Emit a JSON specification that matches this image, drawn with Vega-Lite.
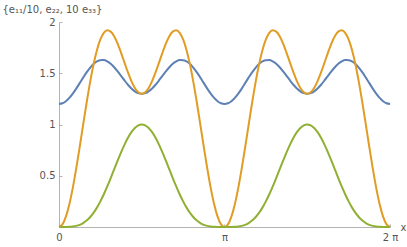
{
  "$schema": "https://vega.github.io/schema/vega-lite/v6.json",
  "width": 331,
  "height": 205,
  "autosize": {"type": "none"},
  "padding": {"left": 59, "top": 22, "right": 17, "bottom": 20},
  "config": {
    "view": {"stroke": null},
    "font": "DejaVu Sans",
    "axis": {
      "domainColor": "#b3b3b3",
      "tickColor": "#b3b3b3",
      "labelColor": "#555555",
      "titleColor": "#555555",
      "labelFont": "DejaVu Sans",
      "titleFont": "DejaVu Sans",
      "labelFontSize": 10,
      "titleFontSize": 10,
      "titleFontWeight": "normal",
      "grid": false,
      "tickSize": -3
    }
  },
  "data": {
    "values": [
      {"x": 0, "e11_10": 1.2, "e22": 0, "e33_10": 0},
      {"x": 0.06545, "e11_10": 1.2069, "e22": 0.0257, "e33_10": 0},
      {"x": 0.1309, "e11_10": 1.227, "e22": 0.1012, "e33_10": 0.0003},
      {"x": 0.19635, "e11_10": 1.2592, "e22": 0.2223, "e33_10": 0.0014},
      {"x": 0.2618, "e11_10": 1.3012, "e22": 0.3821, "e33_10": 0.0045},
      {"x": 0.32725, "e11_10": 1.3504, "e22": 0.5716, "e33_10": 0.0107},
      {"x": 0.3927, "e11_10": 1.4036, "e22": 0.7804, "e33_10": 0.0214},
      {"x": 0.45815, "e11_10": 1.4575, "e22": 0.997, "e33_10": 0.0383},
      {"x": 0.5236, "e11_10": 1.5085, "e22": 1.21, "e33_10": 0.0625},
      {"x": 0.58905, "e11_10": 1.5535, "e22": 1.4084, "e33_10": 0.0953},
      {"x": 0.6545, "e11_10": 1.5897, "e22": 1.5827, "e33_10": 0.1373},
      {"x": 0.71995, "e11_10": 1.615, "e22": 1.7251, "e33_10": 0.189},
      {"x": 0.7854, "e11_10": 1.628, "e22": 1.83, "e33_10": 0.25},
      {"x": 0.85085, "e11_10": 1.6281, "e22": 1.8947, "e33_10": 0.3195},
      {"x": 0.9163, "e11_10": 1.6156, "e22": 1.9192, "e33_10": 0.3962},
      {"x": 0.98175, "e11_10": 1.5918, "e22": 1.9059, "e33_10": 0.478},
      {"x": 1.0472, "e11_10": 1.5585, "e22": 1.86, "e33_10": 0.5625},
      {"x": 1.11265, "e11_10": 1.5184, "e22": 1.7884, "e33_10": 0.647},
      {"x": 1.1781, "e11_10": 1.4744, "e22": 1.6996, "e33_10": 0.7286},
      {"x": 1.24355, "e11_10": 1.4298, "e22": 1.603, "e33_10": 0.804},
      {"x": 1.309, "e11_10": 1.3878, "e22": 1.5079, "e33_10": 0.8705},
      {"x": 1.37445, "e11_10": 1.3516, "e22": 1.4233, "e33_10": 0.9253},
      {"x": 1.4399, "e11_10": 1.3236, "e22": 1.3569, "e33_10": 0.9662},
      {"x": 1.50535, "e11_10": 1.306, "e22": 1.3145, "e33_10": 0.9915},
      {"x": 1.5708, "e11_10": 1.3, "e22": 1.3, "e33_10": 1},
      {"x": 1.63625, "e11_10": 1.306, "e22": 1.3145, "e33_10": 0.9915},
      {"x": 1.7017, "e11_10": 1.3236, "e22": 1.3569, "e33_10": 0.9662},
      {"x": 1.76715, "e11_10": 1.3516, "e22": 1.4233, "e33_10": 0.9253},
      {"x": 1.8326, "e11_10": 1.3878, "e22": 1.5079, "e33_10": 0.8705},
      {"x": 1.89805, "e11_10": 1.4298, "e22": 1.603, "e33_10": 0.804},
      {"x": 1.9635, "e11_10": 1.4744, "e22": 1.6996, "e33_10": 0.7286},
      {"x": 2.02895, "e11_10": 1.5184, "e22": 1.7884, "e33_10": 0.647},
      {"x": 2.0944, "e11_10": 1.5585, "e22": 1.86, "e33_10": 0.5625},
      {"x": 2.15984, "e11_10": 1.5918, "e22": 1.9059, "e33_10": 0.478},
      {"x": 2.22529, "e11_10": 1.6156, "e22": 1.9192, "e33_10": 0.3962},
      {"x": 2.29074, "e11_10": 1.6281, "e22": 1.8947, "e33_10": 0.3195},
      {"x": 2.35619, "e11_10": 1.628, "e22": 1.83, "e33_10": 0.25},
      {"x": 2.42164, "e11_10": 1.615, "e22": 1.7251, "e33_10": 0.189},
      {"x": 2.48709, "e11_10": 1.5897, "e22": 1.5827, "e33_10": 0.1373},
      {"x": 2.55254, "e11_10": 1.5535, "e22": 1.4084, "e33_10": 0.0953},
      {"x": 2.61799, "e11_10": 1.5085, "e22": 1.21, "e33_10": 0.0625},
      {"x": 2.68344, "e11_10": 1.4575, "e22": 0.997, "e33_10": 0.0383},
      {"x": 2.74889, "e11_10": 1.4036, "e22": 0.7804, "e33_10": 0.0214},
      {"x": 2.81434, "e11_10": 1.3504, "e22": 0.5716, "e33_10": 0.0107},
      {"x": 2.87979, "e11_10": 1.3012, "e22": 0.3821, "e33_10": 0.0045},
      {"x": 2.94524, "e11_10": 1.2592, "e22": 0.2223, "e33_10": 0.0014},
      {"x": 3.01069, "e11_10": 1.227, "e22": 0.1012, "e33_10": 0.0003},
      {"x": 3.07614, "e11_10": 1.2069, "e22": 0.0257, "e33_10": 0},
      {"x": 3.14159, "e11_10": 1.2, "e22": 0, "e33_10": 0},
      {"x": 3.20704, "e11_10": 1.2069, "e22": 0.0257, "e33_10": 0},
      {"x": 3.27249, "e11_10": 1.227, "e22": 0.1012, "e33_10": 0.0003},
      {"x": 3.33794, "e11_10": 1.2592, "e22": 0.2223, "e33_10": 0.0014},
      {"x": 3.40339, "e11_10": 1.3012, "e22": 0.3821, "e33_10": 0.0045},
      {"x": 3.46884, "e11_10": 1.3504, "e22": 0.5716, "e33_10": 0.0107},
      {"x": 3.53429, "e11_10": 1.4036, "e22": 0.7804, "e33_10": 0.0214},
      {"x": 3.59974, "e11_10": 1.4575, "e22": 0.997, "e33_10": 0.0383},
      {"x": 3.66519, "e11_10": 1.5085, "e22": 1.21, "e33_10": 0.0625},
      {"x": 3.73064, "e11_10": 1.5535, "e22": 1.4084, "e33_10": 0.0953},
      {"x": 3.79609, "e11_10": 1.5897, "e22": 1.5827, "e33_10": 0.1373},
      {"x": 3.86154, "e11_10": 1.615, "e22": 1.7251, "e33_10": 0.189},
      {"x": 3.92699, "e11_10": 1.628, "e22": 1.83, "e33_10": 0.25},
      {"x": 3.99244, "e11_10": 1.6281, "e22": 1.8947, "e33_10": 0.3195},
      {"x": 4.05789, "e11_10": 1.6156, "e22": 1.9192, "e33_10": 0.3962},
      {"x": 4.12334, "e11_10": 1.5918, "e22": 1.9059, "e33_10": 0.478},
      {"x": 4.18879, "e11_10": 1.5585, "e22": 1.86, "e33_10": 0.5625},
      {"x": 4.25424, "e11_10": 1.5184, "e22": 1.7884, "e33_10": 0.647},
      {"x": 4.31969, "e11_10": 1.4744, "e22": 1.6996, "e33_10": 0.7286},
      {"x": 4.38514, "e11_10": 1.4298, "e22": 1.603, "e33_10": 0.804},
      {"x": 4.45059, "e11_10": 1.3878, "e22": 1.5079, "e33_10": 0.8705},
      {"x": 4.51604, "e11_10": 1.3516, "e22": 1.4233, "e33_10": 0.9253},
      {"x": 4.58149, "e11_10": 1.3236, "e22": 1.3569, "e33_10": 0.9662},
      {"x": 4.64694, "e11_10": 1.306, "e22": 1.3145, "e33_10": 0.9915},
      {"x": 4.71239, "e11_10": 1.3, "e22": 1.3, "e33_10": 1},
      {"x": 4.77784, "e11_10": 1.306, "e22": 1.3145, "e33_10": 0.9915},
      {"x": 4.84329, "e11_10": 1.3236, "e22": 1.3569, "e33_10": 0.9662},
      {"x": 4.90874, "e11_10": 1.3516, "e22": 1.4233, "e33_10": 0.9253},
      {"x": 4.97419, "e11_10": 1.3878, "e22": 1.5079, "e33_10": 0.8705},
      {"x": 5.03964, "e11_10": 1.4298, "e22": 1.603, "e33_10": 0.804},
      {"x": 5.10509, "e11_10": 1.4744, "e22": 1.6996, "e33_10": 0.7286},
      {"x": 5.17054, "e11_10": 1.5184, "e22": 1.7884, "e33_10": 0.647},
      {"x": 5.23599, "e11_10": 1.5585, "e22": 1.86, "e33_10": 0.5625},
      {"x": 5.30144, "e11_10": 1.5918, "e22": 1.9059, "e33_10": 0.478},
      {"x": 5.36689, "e11_10": 1.6156, "e22": 1.9192, "e33_10": 0.3962},
      {"x": 5.43234, "e11_10": 1.6281, "e22": 1.8947, "e33_10": 0.3195},
      {"x": 5.49779, "e11_10": 1.628, "e22": 1.83, "e33_10": 0.25},
      {"x": 5.56324, "e11_10": 1.615, "e22": 1.7251, "e33_10": 0.189},
      {"x": 5.62869, "e11_10": 1.5897, "e22": 1.5827, "e33_10": 0.1373},
      {"x": 5.69414, "e11_10": 1.5535, "e22": 1.4084, "e33_10": 0.0953},
      {"x": 5.75959, "e11_10": 1.5085, "e22": 1.21, "e33_10": 0.0625},
      {"x": 5.82504, "e11_10": 1.4575, "e22": 0.997, "e33_10": 0.0383},
      {"x": 5.89049, "e11_10": 1.4036, "e22": 0.7804, "e33_10": 0.0214},
      {"x": 5.95594, "e11_10": 1.3504, "e22": 0.5716, "e33_10": 0.0107},
      {"x": 6.02139, "e11_10": 1.3012, "e22": 0.3821, "e33_10": 0.0045},
      {"x": 6.08684, "e11_10": 1.2592, "e22": 0.2223, "e33_10": 0.0014},
      {"x": 6.15229, "e11_10": 1.227, "e22": 0.1012, "e33_10": 0.0003},
      {"x": 6.21774, "e11_10": 1.2069, "e22": 0.0257, "e33_10": 0},
      {"x": 6.28319, "e11_10": 1.2, "e22": 0, "e33_10": 0}
    ]
  },
  "transform": [
    {"fold": ["e11_10", "e22", "e33_10"], "as": ["series", "value"]}
  ],
  "mark": {"type": "line", "strokeWidth": 2, "interpolate": "monotone", "clip": false},
  "encoding": {
    "x": {
      "field": "x",
      "type": "quantitative",
      "scale": {"domain": [0, 6.28319], "nice": false, "zero": false},
      "axis": {
        "values": [0, 3.14159, 6.28319],
        "labelExpr": "datum.value < 1 ? '0' : (datum.value < 4 ? 'π' : '2 π')",
        "labelPadding": 8,
        "labelFlush": false,
        "title": "x",
        "titleAngle": 0,
        "titleAlign": "left",
        "titleBaseline": "middle",
        "titleX": 341,
        "titleY": 0,
        "titlePadding": 0
      }
    },
    "y": {
      "field": "value",
      "type": "quantitative",
      "scale": {"domain": [0, 2], "nice": false},
      "axis": {
        "values": [0.5, 1, 1.5, 2],
        "format": "~g",
        "labelPadding": 7,
        "title": "{e₁₁/10,  e₂₂,  10 e₃₃}",
        "titleAngle": 0,
        "titleAlign": "left",
        "titleBaseline": "alphabetic",
        "titleX": -57,
        "titleY": -10
      }
    },
    "color": {
      "field": "series",
      "type": "nominal",
      "scale": {"domain": ["e11_10", "e22", "e33_10"], "range": ["#5E81B5", "#E19C24", "#8FB032"]},
      "legend": null
    }
  }
}
